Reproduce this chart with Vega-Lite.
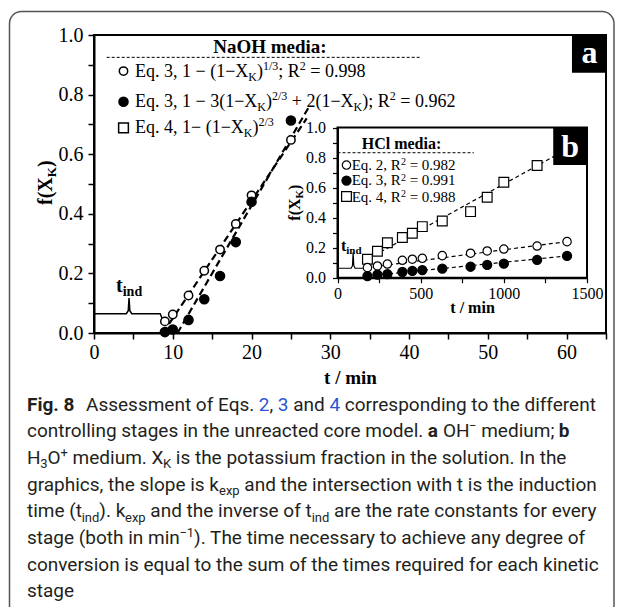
{
  "$schema": "https://vega.github.io/schema/vega-lite/v6.json",
  "width": 512,
  "height": 298,
  "autosize": {"type": "none"},
  "padding": {"left": 94, "top": 35, "right": 17, "bottom": 274},
  "background": "white",
  "config": {
    "view": {"stroke": "black", "strokeWidth": 2},
    "axis": {"grid": false, "domainColor": "black", "tickColor": "black", "labelColor": "black", "labelFont": "Liberation Serif", "titleFont": "Liberation Serif", "titleColor": "black"}
  },
  "datasets": {
    "mainPts": [
      {"series": "open", "t": 9, "f": 0.039}, {"series": "open", "t": 10, "f": 0.062}, {"series": "open", "t": 12, "f": 0.126}, {"series": "open", "t": 14, "f": 0.209},
      {"series": "open", "t": 16, "f": 0.28}, {"series": "open", "t": 18, "f": 0.366}, {"series": "open", "t": 20, "f": 0.462}, {"series": "open", "t": 25, "f": 0.648},
      {"series": "filled", "t": 9, "f": 0.003}, {"series": "filled", "t": 10, "f": 0.012}, {"series": "filled", "t": 12, "f": 0.044}, {"series": "filled", "t": 14, "f": 0.113},
      {"series": "filled", "t": 16, "f": 0.191}, {"series": "filled", "t": 18, "f": 0.305}, {"series": "filled", "t": 20, "f": 0.44}, {"series": "filled", "t": 25, "f": 0.713}
    ],
    "mainSym": [
      {"series": "open", "t": 3.745, "f": 0.879}, {"series": "filled", "t": 3.745, "f": 0.776}, {"series": "square", "t": 3.745, "f": 0.688}
    ],
    "mainFit": [
      {"series": "open", "t": 8.75, "f": 0}, {"series": "open", "t": 27.0, "f": 0.72},
      {"series": "filled", "t": 10.6, "f": 0}, {"series": "filled", "t": 27.2, "f": 0.755}
    ],
    "mainBrace": [
      {"i": 0, "t": 0, "f": 0.065}, {"i": 1, "t": 4.1, "f": 0.065}, {"i": 2, "t": 4.35, "f": 0.075}, {"i": 3, "t": 4.45, "f": 0.117}, {"i": 4, "t": 4.55, "f": 0.075},
      {"i": 5, "t": 4.8, "f": 0.065}, {"i": 6, "t": 8.4, "f": 0.065}, {"i": 7, "t": 8.6, "f": 0.052}, {"i": 8, "t": 8.65, "f": 0.035}
    ],
    "mainRule": [{"t": 1.61, "t2": 41.39, "f": 0.925}],
    "aBox": [{"t": 60.68, "t2": 65, "f": 0.8735, "f2": 1}],
    "mainTxt": [
      {"k": "n", "t": 5.205, "f": 0.8607, "s": "Eq. 3, 1 − (1−X"},
      {"k": "n", "t": 20.693, "f": 0.8607, "s": ")"},
      {"k": "n", "t": 23.397, "f": 0.8607, "s": "; R"},
      {"k": "n", "t": 27.46, "f": 0.8607, "s": "= 0.998"},
      {"k": "n", "t": 5.205, "f": 0.759, "s": "Eq. 3, 1 − 3(1−X"},
      {"k": "n", "t": 21.836, "f": 0.759, "s": ")"},
      {"k": "n", "t": 25.111, "f": 0.759, "s": "+ 2(1−X"},
      {"k": "n", "t": 34.061, "f": 0.759, "s": "); R"},
      {"k": "n", "t": 38.886, "f": 0.759, "s": "= 0.962"},
      {"k": "n", "t": 5.205, "f": 0.671, "s": "Eq. 4, 1− (1−X"},
      {"k": "n", "t": 20.122, "f": 0.671, "s": ")"},
      {"k": "sub", "t": 19.589, "f": 0.8473, "s": "K"},
      {"k": "sub", "t": 20.732, "f": 0.7456, "s": "K"},
      {"k": "sub", "t": 32.957, "f": 0.7456, "s": "K"},
      {"k": "sub", "t": 19.018, "f": 0.6576, "s": "K"},
      {"k": "sup", "t": 21.455, "f": 0.8842, "s": "1/3"},
      {"k": "sup", "t": 26.127, "f": 0.8842, "s": "2"},
      {"k": "sup", "t": 22.598, "f": 0.7825, "s": "2/3"},
      {"k": "sup", "t": 37.553, "f": 0.7825, "s": "2"},
      {"k": "sup", "t": 20.884, "f": 0.6945, "s": "2/3"},
      {"k": "head", "t": 22.34, "f": 0.9386, "s": "NaOH media:"},
      {"k": "tb", "t": 2.793, "f": 0.1386, "s": "t"},
      {"k": "tbs", "t": 3.644, "f": 0.1252, "s": "ind"},
      {"k": "yt", "t": -5.33, "f": 0.4295, "s": "f(X"},
      {"k": "yts", "t": -4.824, "f": 0.5227, "s": "K"},
      {"k": "yt", "t": -5.33, "f": 0.5567, "s": ")"},
      {"k": "lab", "t": 62.9, "f": 0.905, "s": "a"}
    ],
    "inFrame": [{"t": 0, "t2": 1500, "f": 0, "f2": 1}],
    "bBox": [{"t": 1297, "t2": 1500, "f": 0.75, "f2": 1}],
    "inPts": [
      {"series": "square", "t": 180, "f": 0.123}, {"series": "square", "t": 240, "f": 0.176}, {"series": "square", "t": 300, "f": 0.233}, {"series": "square", "t": 390, "f": 0.267},
      {"series": "square", "t": 450, "f": 0.296}, {"series": "square", "t": 510, "f": 0.34}, {"series": "square", "t": 630, "f": 0.378}, {"series": "square", "t": 800, "f": 0.44},
      {"series": "square", "t": 900, "f": 0.536}, {"series": "square", "t": 1000, "f": 0.636}, {"series": "square", "t": 1200, "f": 0.747}, {"series": "square", "t": 1380, "f": 0.86},
      {"series": "open", "t": 180, "f": 0.067}, {"series": "open", "t": 240, "f": 0.078}, {"series": "open", "t": 300, "f": 0.091}, {"series": "open", "t": 390, "f": 0.116},
      {"series": "open", "t": 450, "f": 0.123}, {"series": "open", "t": 510, "f": 0.129}, {"series": "open", "t": 630, "f": 0.147}, {"series": "open", "t": 800, "f": 0.163},
      {"series": "open", "t": 900, "f": 0.178}, {"series": "open", "t": 1000, "f": 0.191}, {"series": "open", "t": 1200, "f": 0.211}, {"series": "open", "t": 1380, "f": 0.24},
      {"series": "filled", "t": 180, "f": 0.011}, {"series": "filled", "t": 240, "f": 0.02}, {"series": "filled", "t": 300, "f": 0.024}, {"series": "filled", "t": 390, "f": 0.038},
      {"series": "filled", "t": 450, "f": 0.045}, {"series": "filled", "t": 510, "f": 0.051}, {"series": "filled", "t": 630, "f": 0.06}, {"series": "filled", "t": 800, "f": 0.073},
      {"series": "filled", "t": 900, "f": 0.085}, {"series": "filled", "t": 1000, "f": 0.093}, {"series": "filled", "t": 1200, "f": 0.118}, {"series": "filled", "t": 1380, "f": 0.145}
    ],
    "inSym": [
      {"series": "open", "t": 54, "f": 0.75}, {"series": "filled", "t": 54, "f": 0.647}, {"series": "square", "t": 54, "f": 0.541}
    ],
    "inFit": [
      {"series": "square", "t": 185, "f": 0.126}, {"series": "square", "t": 1420, "f": 0.88},
      {"series": "open", "t": 185, "f": 0.068}, {"series": "open", "t": 1390, "f": 0.242},
      {"series": "filled", "t": 185, "f": 0.012}, {"series": "filled", "t": 1390, "f": 0.146}
    ],
    "inBrace": [
      {"i": 0, "t": 0, "f": 0.063}, {"i": 1, "t": 82, "f": 0.063}, {"i": 2, "t": 90, "f": 0.08}, {"i": 3, "t": 94, "f": 0.167}, {"i": 4, "t": 98, "f": 0.08},
      {"i": 5, "t": 106, "f": 0.063}, {"i": 6, "t": 165, "f": 0.063}, {"i": 7, "t": 173, "f": 0.045}, {"i": 8, "t": 175, "f": 0.025}
    ],
    "inRule": [{"t": 0, "t2": 819.5, "f": 0.832}],
    "inTxt": [
      {"k": "head", "t": 384.8, "f": 0.857, "s": "HCl media:"},
      {"k": "n", "t": 85.4, "f": 0.717, "s": "Eq. 2, R"}, {"k": "n", "t": 433.8, "f": 0.717, "s": "= 0.982"},
      {"k": "n", "t": 85.4, "f": 0.614, "s": "Eq. 3, R"}, {"k": "n", "t": 433.8, "f": 0.614, "s": "= 0.991"},
      {"k": "n", "t": 85.4, "f": 0.507, "s": "Eq. 4, R"}, {"k": "n", "t": 433.8, "f": 0.507, "s": "= 0.988"},
      {"k": "sup", "t": 381.2, "f": 0.75, "s": "2"}, {"k": "sup", "t": 381.2, "f": 0.647, "s": "2"}, {"k": "sup", "t": 381.2, "f": 0.54, "s": "2"},
      {"k": "tb", "t": 21, "f": 0.1778, "s": "t"},
      {"k": "tbs", "t": 52.9, "f": 0.1578, "s": "ind"},
      {"k": "yt", "t": -225.4, "f": 0.3795, "s": "f(X"},
      {"k": "yts", "t": -207.4, "f": 0.5273, "s": "K"},
      {"k": "yt", "t": -225.4, "f": 0.5845, "s": ")"},
      {"k": "xt", "t": 812, "f": -0.237, "s": "t / min"},
      {"k": "lab", "t": 1398, "f": 0.8036, "s": "b"}
    ],
    "border": [{"cx": -17.5, "cx2": 587, "line": -13.96, "line2": 8.855}],
    "cap": [
      {"line": 1, "k": "b", "cx": 0, "s": "Fig. 8"},
      {"line": 1, "k": "n", "cx": 59, "s": "Assessment of Eqs."},
      {"line": 1, "k": "blue", "cx": 231.8, "s": "2"},
      {"line": 1, "k": "n", "cx": 242.5, "s": ","},
      {"line": 1, "k": "blue", "cx": 250.8, "s": "3"},
      {"line": 1, "k": "n", "cx": 266.2, "s": "and"},
      {"line": 1, "k": "blue", "cx": 302.4, "s": "4"},
      {"line": 1, "k": "n", "cx": 317.8, "s": "corresponding to the different"},
      {"line": 2, "k": "n", "cx": 0, "s": "controlling stages in the unreacted core model."},
      {"line": 2, "k": "b", "cx": 400.7, "s": "a"},
      {"line": 2, "k": "n", "cx": 415.9, "s": "OH"},
      {"line": 2, "k": "sup", "cx": 442, "s": "−"},
      {"line": 2, "k": "n", "cx": 454.2, "s": "medium;"},
      {"line": 2, "k": "b", "cx": 531.8, "s": "b"},
      {"line": 3, "k": "n", "cx": 0, "s": "H"},
      {"line": 3, "k": "sub", "cx": 13.3, "s": "3"},
      {"line": 3, "k": "n", "cx": 20.6, "s": "O"},
      {"line": 3, "k": "sup", "cx": 33.5, "s": "+"},
      {"line": 3, "k": "n", "cx": 45.6, "s": "medium. X"},
      {"line": 3, "k": "sub", "cx": 136, "s": "K"},
      {"line": 3, "k": "n", "cx": 148.8, "s": "is the potassium fraction in the solution. In the"},
      {"line": 4, "k": "n", "cx": 0, "s": "graphics, the slope is k"},
      {"line": 4, "k": "sub", "cx": 192, "s": "exp"},
      {"line": 4, "k": "n", "cx": 217.3, "s": "and the intersection with t is the induction"},
      {"line": 5, "k": "n", "cx": 0, "s": "time (t"},
      {"line": 5, "k": "sub", "cx": 54.7, "s": "ind"},
      {"line": 5, "k": "n", "cx": 72.3, "s": "). k"},
      {"line": 5, "k": "sub", "cx": 98, "s": "exp"},
      {"line": 5, "k": "n", "cx": 123.3, "s": "and the inverse of t"},
      {"line": 5, "k": "sub", "cx": 284.7, "s": "ind"},
      {"line": 5, "k": "n", "cx": 307, "s": "are the rate constants for every"},
      {"line": 6, "k": "n", "cx": 0, "s": "stage (both in min"},
      {"line": 6, "k": "sup", "cx": 152.4, "s": "−1"},
      {"line": 6, "k": "n", "cx": 167.1, "s": "). The time necessary to achieve any degree of"},
      {"line": 7, "k": "n", "cx": 0, "s": "conversion is equal to the sum of the times required for each kinetic"},
      {"line": 8, "k": "n", "cx": 0, "s": "stage"}
    ]
  },
  "layer": [
    {
      "data": {"name": "mainFit"},
      "mark": {"type": "line", "strokeDash": [7, 4], "strokeWidth": 2.2, "color": "black"},
      "encoding": {
        "x": {"field": "t", "type": "quantitative", "scale": {"domain": [0, 65], "nice": false, "zero": false},
          "axis": {"orient": "bottom", "values": [0, 5, 10, 15, 20, 25, 30, 35, 40, 45, 50, 55, 60, 65], "labelExpr": "datum.value % 10 === 0 && datum.value <= 60 ? datum.label : ''", "format": "d", "labelFontSize": 20, "tickSize": 6, "tickWidth": 1.5, "domainWidth": 2, "labelPadding": 3, "labelFlush": false, "labelOverlap": false, "title": "t / min", "titleFontSize": 19, "titleFontWeight": "bold", "titlePadding": 6}},
        "y": {"field": "f", "type": "quantitative", "scale": {"domain": [0, 1], "nice": false, "zero": false},
          "axis": {"orient": "left", "values": [0, 0.1, 0.2, 0.3, 0.4, 0.5, 0.6, 0.7, 0.8, 0.9, 1], "labelExpr": "round(datum.value*10) % 2 === 0 ? format(datum.value, '.1f') : ''", "labelFontSize": 20, "tickSize": 6, "tickWidth": 1.5, "domainWidth": 2, "labelPadding": 5, "labelFlush": false, "labelOverlap": false, "title": null}},
        "detail": {"field": "series", "type": "nominal"}
      }
    },
    {
      "data": {"name": "mainBrace"},
      "mark": {"type": "line", "strokeWidth": 1.5, "color": "black"},
      "encoding": {
        "x": {"field": "t", "type": "quantitative", "scale": {"domain": [0, 65], "nice": false, "zero": false}, "axis": null},
        "y": {"field": "f", "type": "quantitative", "scale": {"domain": [0, 1], "nice": false, "zero": false}, "axis": null},
        "order": {"field": "i", "type": "quantitative"}
      }
    },
    {
      "data": {"name": "mainRule"},
      "mark": {"type": "rule", "strokeDash": [3, 2], "strokeWidth": 1, "color": "black"},
      "encoding": {
        "x": {"field": "t", "type": "quantitative", "scale": {"domain": [0, 65], "nice": false, "zero": false}, "axis": null},
        "x2": {"field": "t2"},
        "y": {"field": "f", "type": "quantitative", "scale": {"domain": [0, 1], "nice": false, "zero": false}, "axis": null}
      }
    },
    {
      "data": {"name": "mainPts"},
      "mark": {"type": "point", "filled": true, "stroke": "black", "strokeWidth": 1.5, "opacity": 1},
      "encoding": {
        "x": {"field": "t", "type": "quantitative", "scale": {"domain": [0, 65], "nice": false, "zero": false}, "axis": null},
        "y": {"field": "f", "type": "quantitative", "scale": {"domain": [0, 1], "nice": false, "zero": false}, "axis": null},
        "shape": {"field": "series", "type": "nominal", "scale": {"domain": ["open", "filled", "square"], "range": ["circle", "circle", "square"]}, "legend": null},
        "fill": {"field": "series", "type": "nominal", "scale": {"domain": ["open", "filled", "square"], "range": ["white", "black", "white"]}, "legend": null},
        "size": {"field": "series", "type": "ordinal", "scale": {"domain": ["open", "filled", "square"], "range": [70, 95, 60]}, "legend": null}
      }
    },
    {
      "data": {"name": "mainSym"},
      "mark": {"type": "point", "filled": true, "stroke": "black", "strokeWidth": 1.5, "opacity": 1},
      "encoding": {
        "x": {"field": "t", "type": "quantitative", "scale": {"domain": [0, 65], "nice": false, "zero": false}, "axis": null},
        "y": {"field": "f", "type": "quantitative", "scale": {"domain": [0, 1], "nice": false, "zero": false}, "axis": null},
        "shape": {"field": "series", "type": "nominal", "scale": {"domain": ["open", "filled", "square"], "range": ["circle", "circle", "square"]}, "legend": null},
        "fill": {"field": "series", "type": "nominal", "scale": {"domain": ["open", "filled", "square"], "range": ["white", "black", "white"]}, "legend": null},
        "size": {"field": "series", "type": "ordinal", "scale": {"domain": ["open", "filled", "square"], "range": [66, 92, 60]}, "legend": null}
      }
    },
    {
      "data": {"name": "mainTxt"},
      "transform": [{"filter": "datum.k === 'n'"}],
      "mark": {"type": "text", "font": "Liberation Serif", "fontSize": 18, "align": "left", "baseline": "alphabetic", "color": "black"},
      "encoding": {
        "x": {"field": "t", "type": "quantitative", "scale": {"domain": [0, 65], "nice": false, "zero": false}, "axis": null},
        "y": {"field": "f", "type": "quantitative", "scale": {"domain": [0, 1], "nice": false, "zero": false}, "axis": null},
        "text": {"field": "s"}
      }
    },
    {
      "data": {"name": "mainTxt"},
      "transform": [{"filter": "datum.k === 'sub' || datum.k === 'sup'"}],
      "mark": {"type": "text", "font": "Liberation Serif", "fontSize": 12, "align": "left", "baseline": "alphabetic", "color": "black"},
      "encoding": {
        "x": {"field": "t", "type": "quantitative", "scale": {"domain": [0, 65], "nice": false, "zero": false}, "axis": null},
        "y": {"field": "f", "type": "quantitative", "scale": {"domain": [0, 1], "nice": false, "zero": false}, "axis": null},
        "text": {"field": "s"}
      }
    },
    {
      "data": {"name": "mainTxt"},
      "transform": [{"filter": "datum.k === 'head'"}],
      "mark": {"type": "text", "font": "Liberation Serif", "fontSize": 19, "fontWeight": "bold", "align": "center", "baseline": "alphabetic", "color": "black"},
      "encoding": {
        "x": {"field": "t", "type": "quantitative", "scale": {"domain": [0, 65], "nice": false, "zero": false}, "axis": null},
        "y": {"field": "f", "type": "quantitative", "scale": {"domain": [0, 1], "nice": false, "zero": false}, "axis": null},
        "text": {"field": "s"}
      }
    },
    {
      "data": {"name": "mainTxt"},
      "transform": [{"filter": "datum.k === 'tb'"}],
      "mark": {"type": "text", "font": "Liberation Serif", "fontSize": 20, "fontWeight": "bold", "align": "left", "baseline": "alphabetic", "color": "black"},
      "encoding": {
        "x": {"field": "t", "type": "quantitative", "scale": {"domain": [0, 65], "nice": false, "zero": false}, "axis": null},
        "y": {"field": "f", "type": "quantitative", "scale": {"domain": [0, 1], "nice": false, "zero": false}, "axis": null},
        "text": {"field": "s"}
      }
    },
    {
      "data": {"name": "mainTxt"},
      "transform": [{"filter": "datum.k === 'tbs'"}],
      "mark": {"type": "text", "font": "Liberation Serif", "fontSize": 14, "fontWeight": "bold", "align": "left", "baseline": "alphabetic", "color": "black"},
      "encoding": {
        "x": {"field": "t", "type": "quantitative", "scale": {"domain": [0, 65], "nice": false, "zero": false}, "axis": null},
        "y": {"field": "f", "type": "quantitative", "scale": {"domain": [0, 1], "nice": false, "zero": false}, "axis": null},
        "text": {"field": "s"}
      }
    },
    {
      "data": {"name": "mainTxt"},
      "transform": [{"filter": "datum.k === 'yt'"}],
      "mark": {"type": "text", "font": "Liberation Serif", "fontSize": 20, "fontWeight": "bold", "align": "left", "baseline": "alphabetic", "angle": 270, "color": "black"},
      "encoding": {
        "x": {"field": "t", "type": "quantitative", "scale": {"domain": [0, 65], "nice": false, "zero": false}, "axis": null},
        "y": {"field": "f", "type": "quantitative", "scale": {"domain": [0, 1], "nice": false, "zero": false}, "axis": null},
        "text": {"field": "s"}
      }
    },
    {
      "data": {"name": "mainTxt"},
      "transform": [{"filter": "datum.k === 'yts'"}],
      "mark": {"type": "text", "font": "Liberation Serif", "fontSize": 13, "fontWeight": "bold", "align": "left", "baseline": "alphabetic", "angle": 270, "color": "black"},
      "encoding": {
        "x": {"field": "t", "type": "quantitative", "scale": {"domain": [0, 65], "nice": false, "zero": false}, "axis": null},
        "y": {"field": "f", "type": "quantitative", "scale": {"domain": [0, 1], "nice": false, "zero": false}, "axis": null},
        "text": {"field": "s"}
      }
    },
    {
      "data": {"name": "aBox"},
      "mark": {"type": "rect", "color": "black"},
      "encoding": {
        "x": {"field": "t", "type": "quantitative", "scale": {"domain": [0, 65], "nice": false, "zero": false}, "axis": null},
        "x2": {"field": "t2"},
        "y": {"field": "f", "type": "quantitative", "scale": {"domain": [0, 1], "nice": false, "zero": false}, "axis": null},
        "y2": {"field": "f2"}
      }
    },
    {
      "data": {"name": "mainTxt"},
      "transform": [{"filter": "datum.k === 'lab'"}],
      "mark": {"type": "text", "font": "Liberation Serif", "fontSize": 32, "fontWeight": "bold", "align": "center", "baseline": "alphabetic", "color": "white"},
      "encoding": {
        "x": {"field": "t", "type": "quantitative", "scale": {"domain": [0, 65], "nice": false, "zero": false}, "axis": null},
        "y": {"field": "f", "type": "quantitative", "scale": {"domain": [0, 1], "nice": false, "zero": false}, "axis": null},
        "text": {"field": "s"}
      }
    },
    {
      "data": {"name": "inFrame"},
      "mark": {"type": "rect", "fill": "white", "stroke": "black", "strokeWidth": 2},
      "encoding": {
        "x": {"field": "t", "type": "quantitative", "scale": {"domain": [0, 1500], "range": [243.5, 493], "nice": false, "zero": false},
          "axis": {"orient": "bottom", "offset": -55.3, "zindex": 1, "values": [0, 250, 500, 750, 1000, 1250, 1500], "labelExpr": "datum.value % 500 === 0 ? datum.label : ''", "format": "d", "labelFontSize": 16, "tickSize": 5, "tickWidth": 1.2, "domainWidth": 2, "labelPadding": 3, "labelFlush": false, "labelOverlap": false, "title": null}},
        "x2": {"field": "t2"},
        "y": {"field": "f", "type": "quantitative", "scale": {"domain": [0, 1], "range": [242.7, 92.5], "nice": false, "zero": false},
          "axis": {"orient": "left", "offset": -243.5, "zindex": 1, "values": [0, 0.1, 0.2, 0.3, 0.4, 0.5, 0.6, 0.7, 0.8, 0.9, 1], "labelExpr": "round(datum.value*10) % 2 === 0 ? format(datum.value, '.1f') : ''", "labelFontSize": 16, "tickSize": 5, "tickWidth": 1.2, "domainWidth": 2, "labelPadding": 7, "labelFlush": false, "labelOverlap": false, "title": null}},
        "y2": {"field": "f2"}
      }
    },
    {
      "data": {"name": "inFit"},
      "mark": {"type": "line", "strokeDash": [4, 3], "strokeWidth": 1.2, "color": "black"},
      "encoding": {
        "x": {"field": "t", "type": "quantitative", "scale": {"domain": [0, 1500], "range": [243.5, 493], "nice": false, "zero": false}, "axis": null},
        "y": {"field": "f", "type": "quantitative", "scale": {"domain": [0, 1], "range": [242.7, 92.5], "nice": false, "zero": false}, "axis": null},
        "detail": {"field": "series", "type": "nominal"}
      }
    },
    {
      "data": {"name": "inBrace"},
      "mark": {"type": "line", "strokeWidth": 1.2, "color": "black"},
      "encoding": {
        "x": {"field": "t", "type": "quantitative", "scale": {"domain": [0, 1500], "range": [243.5, 493], "nice": false, "zero": false}, "axis": null},
        "y": {"field": "f", "type": "quantitative", "scale": {"domain": [0, 1], "range": [242.7, 92.5], "nice": false, "zero": false}, "axis": null},
        "order": {"field": "i", "type": "quantitative"}
      }
    },
    {
      "data": {"name": "inRule"},
      "mark": {"type": "rule", "strokeDash": [3, 2], "strokeWidth": 1, "color": "black"},
      "encoding": {
        "x": {"field": "t", "type": "quantitative", "scale": {"domain": [0, 1500], "range": [243.5, 493], "nice": false, "zero": false}, "axis": null},
        "x2": {"field": "t2"},
        "y": {"field": "f", "type": "quantitative", "scale": {"domain": [0, 1], "range": [242.7, 92.5], "nice": false, "zero": false}, "axis": null}
      }
    },
    {
      "data": {"name": "inPts"},
      "mark": {"type": "point", "filled": true, "stroke": "black", "strokeWidth": 1.2, "opacity": 1},
      "encoding": {
        "x": {"field": "t", "type": "quantitative", "scale": {"domain": [0, 1500], "range": [243.5, 493], "nice": false, "zero": false}, "axis": null},
        "y": {"field": "f", "type": "quantitative", "scale": {"domain": [0, 1], "range": [242.7, 92.5], "nice": false, "zero": false}, "axis": null},
        "shape": {"field": "series", "type": "nominal", "scale": {"domain": ["open", "filled", "square"], "range": ["circle", "circle", "square"]}, "legend": null},
        "fill": {"field": "series", "type": "nominal", "scale": {"domain": ["open", "filled", "square"], "range": ["white", "black", "white"]}, "legend": null},
        "size": {"field": "series", "type": "ordinal", "scale": {"domain": ["open", "filled", "square"], "range": [40, 48, 45]}, "legend": null}
      }
    },
    {
      "data": {"name": "inSym"},
      "mark": {"type": "point", "filled": true, "stroke": "black", "strokeWidth": 1.2, "opacity": 1},
      "encoding": {
        "x": {"field": "t", "type": "quantitative", "scale": {"domain": [0, 1500], "range": [243.5, 493], "nice": false, "zero": false}, "axis": null},
        "y": {"field": "f", "type": "quantitative", "scale": {"domain": [0, 1], "range": [242.7, 92.5], "nice": false, "zero": false}, "axis": null},
        "shape": {"field": "series", "type": "nominal", "scale": {"domain": ["open", "filled", "square"], "range": ["circle", "circle", "square"]}, "legend": null},
        "fill": {"field": "series", "type": "nominal", "scale": {"domain": ["open", "filled", "square"], "range": ["white", "black", "white"]}, "legend": null},
        "size": {"field": "series", "type": "ordinal", "scale": {"domain": ["open", "filled", "square"], "range": [40, 48, 45]}, "legend": null}
      }
    },
    {
      "data": {"name": "bBox"},
      "mark": {"type": "rect", "color": "black"},
      "encoding": {
        "x": {"field": "t", "type": "quantitative", "scale": {"domain": [0, 1500], "range": [243.5, 493], "nice": false, "zero": false}, "axis": null},
        "x2": {"field": "t2"},
        "y": {"field": "f", "type": "quantitative", "scale": {"domain": [0, 1], "range": [242.7, 92.5], "nice": false, "zero": false}, "axis": null},
        "y2": {"field": "f2"}
      }
    },
    {
      "data": {"name": "inTxt"},
      "transform": [{"filter": "datum.k === 'n'"}],
      "mark": {"type": "text", "font": "Liberation Serif", "fontSize": 15, "align": "left", "baseline": "alphabetic", "color": "black"},
      "encoding": {
        "x": {"field": "t", "type": "quantitative", "scale": {"domain": [0, 1500], "range": [243.5, 493], "nice": false, "zero": false}, "axis": null},
        "y": {"field": "f", "type": "quantitative", "scale": {"domain": [0, 1], "range": [242.7, 92.5], "nice": false, "zero": false}, "axis": null},
        "text": {"field": "s"}
      }
    },
    {
      "data": {"name": "inTxt"},
      "transform": [{"filter": "datum.k === 'sup'"}],
      "mark": {"type": "text", "font": "Liberation Serif", "fontSize": 10, "align": "left", "baseline": "alphabetic", "color": "black"},
      "encoding": {
        "x": {"field": "t", "type": "quantitative", "scale": {"domain": [0, 1500], "range": [243.5, 493], "nice": false, "zero": false}, "axis": null},
        "y": {"field": "f", "type": "quantitative", "scale": {"domain": [0, 1], "range": [242.7, 92.5], "nice": false, "zero": false}, "axis": null},
        "text": {"field": "s"}
      }
    },
    {
      "data": {"name": "inTxt"},
      "transform": [{"filter": "datum.k === 'head' || datum.k === 'xt'"}],
      "mark": {"type": "text", "font": "Liberation Serif", "fontSize": 16, "fontWeight": "bold", "align": "center", "baseline": "alphabetic", "color": "black"},
      "encoding": {
        "x": {"field": "t", "type": "quantitative", "scale": {"domain": [0, 1500], "range": [243.5, 493], "nice": false, "zero": false}, "axis": null},
        "y": {"field": "f", "type": "quantitative", "scale": {"domain": [0, 1], "range": [242.7, 92.5], "nice": false, "zero": false}, "axis": null},
        "text": {"field": "s"}
      }
    },
    {
      "data": {"name": "inTxt"},
      "transform": [{"filter": "datum.k === 'tb'"}],
      "mark": {"type": "text", "font": "Liberation Serif", "fontSize": 16, "fontWeight": "bold", "align": "left", "baseline": "alphabetic", "color": "black"},
      "encoding": {
        "x": {"field": "t", "type": "quantitative", "scale": {"domain": [0, 1500], "range": [243.5, 493], "nice": false, "zero": false}, "axis": null},
        "y": {"field": "f", "type": "quantitative", "scale": {"domain": [0, 1], "range": [242.7, 92.5], "nice": false, "zero": false}, "axis": null},
        "text": {"field": "s"}
      }
    },
    {
      "data": {"name": "inTxt"},
      "transform": [{"filter": "datum.k === 'tbs'"}],
      "mark": {"type": "text", "font": "Liberation Serif", "fontSize": 11, "fontWeight": "bold", "align": "left", "baseline": "alphabetic", "color": "black"},
      "encoding": {
        "x": {"field": "t", "type": "quantitative", "scale": {"domain": [0, 1500], "range": [243.5, 493], "nice": false, "zero": false}, "axis": null},
        "y": {"field": "f", "type": "quantitative", "scale": {"domain": [0, 1], "range": [242.7, 92.5], "nice": false, "zero": false}, "axis": null},
        "text": {"field": "s"}
      }
    },
    {
      "data": {"name": "inTxt"},
      "transform": [{"filter": "datum.k === 'yt'"}],
      "mark": {"type": "text", "font": "Liberation Serif", "fontSize": 16, "fontWeight": "bold", "align": "left", "baseline": "alphabetic", "angle": 270, "color": "black"},
      "encoding": {
        "x": {"field": "t", "type": "quantitative", "scale": {"domain": [0, 1500], "range": [243.5, 493], "nice": false, "zero": false}, "axis": null},
        "y": {"field": "f", "type": "quantitative", "scale": {"domain": [0, 1], "range": [242.7, 92.5], "nice": false, "zero": false}, "axis": null},
        "text": {"field": "s"}
      }
    },
    {
      "data": {"name": "inTxt"},
      "transform": [{"filter": "datum.k === 'yts'"}],
      "mark": {"type": "text", "font": "Liberation Serif", "fontSize": 11, "fontWeight": "bold", "align": "left", "baseline": "alphabetic", "angle": 270, "color": "black"},
      "encoding": {
        "x": {"field": "t", "type": "quantitative", "scale": {"domain": [0, 1500], "range": [243.5, 493], "nice": false, "zero": false}, "axis": null},
        "y": {"field": "f", "type": "quantitative", "scale": {"domain": [0, 1], "range": [242.7, 92.5], "nice": false, "zero": false}, "axis": null},
        "text": {"field": "s"}
      }
    },
    {
      "data": {"name": "inTxt"},
      "transform": [{"filter": "datum.k === 'lab'"}],
      "mark": {"type": "text", "font": "Liberation Serif", "fontSize": 32, "fontWeight": "bold", "align": "center", "baseline": "alphabetic", "color": "white"},
      "encoding": {
        "x": {"field": "t", "type": "quantitative", "scale": {"domain": [0, 1500], "range": [243.5, 493], "nice": false, "zero": false}, "axis": null},
        "y": {"field": "f", "type": "quantitative", "scale": {"domain": [0, 1], "range": [242.7, 92.5], "nice": false, "zero": false}, "axis": null},
        "text": {"field": "s"}
      }
    },
    {
      "data": {"name": "border"},
      "mark": {"type": "rect", "filled": false, "color": "#555555", "strokeWidth": 1.5, "cornerRadius": 12},
      "encoding": {
        "x": {"field": "cx", "type": "quantitative", "scale": {"domain": [0, 568], "range": [-67, 501], "nice": false, "zero": false}, "axis": null},
        "x2": {"field": "cx2"},
        "y": {"field": "line", "type": "quantitative", "scale": {"domain": [1, 8], "range": [375.5, 562.2], "nice": false, "zero": false}, "axis": null},
        "y2": {"field": "line2"}
      }
    },
    {
      "data": {"name": "cap"},
      "transform": [{"filter": "datum.k === 'n'"}],
      "mark": {"type": "text", "font": "Roboto", "fontSize": 19, "align": "left", "baseline": "alphabetic", "color": "#231f20"},
      "encoding": {
        "x": {"field": "cx", "type": "quantitative", "scale": {"domain": [0, 568], "range": [-67, 501], "nice": false, "zero": false}, "axis": null},
        "y": {"field": "line", "type": "quantitative", "scale": {"domain": [1, 8], "range": [375.5, 562.2], "nice": false, "zero": false}, "axis": null},
        "text": {"field": "s"}
      }
    },
    {
      "data": {"name": "cap"},
      "transform": [{"filter": "datum.k === 'b'"}],
      "mark": {"type": "text", "font": "Roboto", "fontSize": 19, "fontWeight": "bold", "align": "left", "baseline": "alphabetic", "color": "#231f20"},
      "encoding": {
        "x": {"field": "cx", "type": "quantitative", "scale": {"domain": [0, 568], "range": [-67, 501], "nice": false, "zero": false}, "axis": null},
        "y": {"field": "line", "type": "quantitative", "scale": {"domain": [1, 8], "range": [375.5, 562.2], "nice": false, "zero": false}, "axis": null},
        "text": {"field": "s"}
      }
    },
    {
      "data": {"name": "cap"},
      "transform": [{"filter": "datum.k === 'blue'"}],
      "mark": {"type": "text", "font": "Roboto", "fontSize": 19, "align": "left", "baseline": "alphabetic", "color": "#2b55d4"},
      "encoding": {
        "x": {"field": "cx", "type": "quantitative", "scale": {"domain": [0, 568], "range": [-67, 501], "nice": false, "zero": false}, "axis": null},
        "y": {"field": "line", "type": "quantitative", "scale": {"domain": [1, 8], "range": [375.5, 562.2], "nice": false, "zero": false}, "axis": null},
        "text": {"field": "s"}
      }
    },
    {
      "data": {"name": "cap"},
      "transform": [{"filter": "datum.k === 'sub'"}],
      "mark": {"type": "text", "font": "Roboto", "fontSize": 13, "align": "left", "baseline": "alphabetic", "dy": 4.5, "color": "#231f20"},
      "encoding": {
        "x": {"field": "cx", "type": "quantitative", "scale": {"domain": [0, 568], "range": [-67, 501], "nice": false, "zero": false}, "axis": null},
        "y": {"field": "line", "type": "quantitative", "scale": {"domain": [1, 8], "range": [375.5, 562.2], "nice": false, "zero": false}, "axis": null},
        "text": {"field": "s"}
      }
    },
    {
      "data": {"name": "cap"},
      "transform": [{"filter": "datum.k === 'sup'"}],
      "mark": {"type": "text", "font": "Roboto", "fontSize": 13, "align": "left", "baseline": "alphabetic", "dy": -7, "color": "#231f20"},
      "encoding": {
        "x": {"field": "cx", "type": "quantitative", "scale": {"domain": [0, 568], "range": [-67, 501], "nice": false, "zero": false}, "axis": null},
        "y": {"field": "line", "type": "quantitative", "scale": {"domain": [1, 8], "range": [375.5, 562.2], "nice": false, "zero": false}, "axis": null},
        "text": {"field": "s"}
      }
    }
  ],
  "resolve": {"scale": {"x": "independent", "y": "independent"}, "axis": {"x": "independent", "y": "independent"}}
}
